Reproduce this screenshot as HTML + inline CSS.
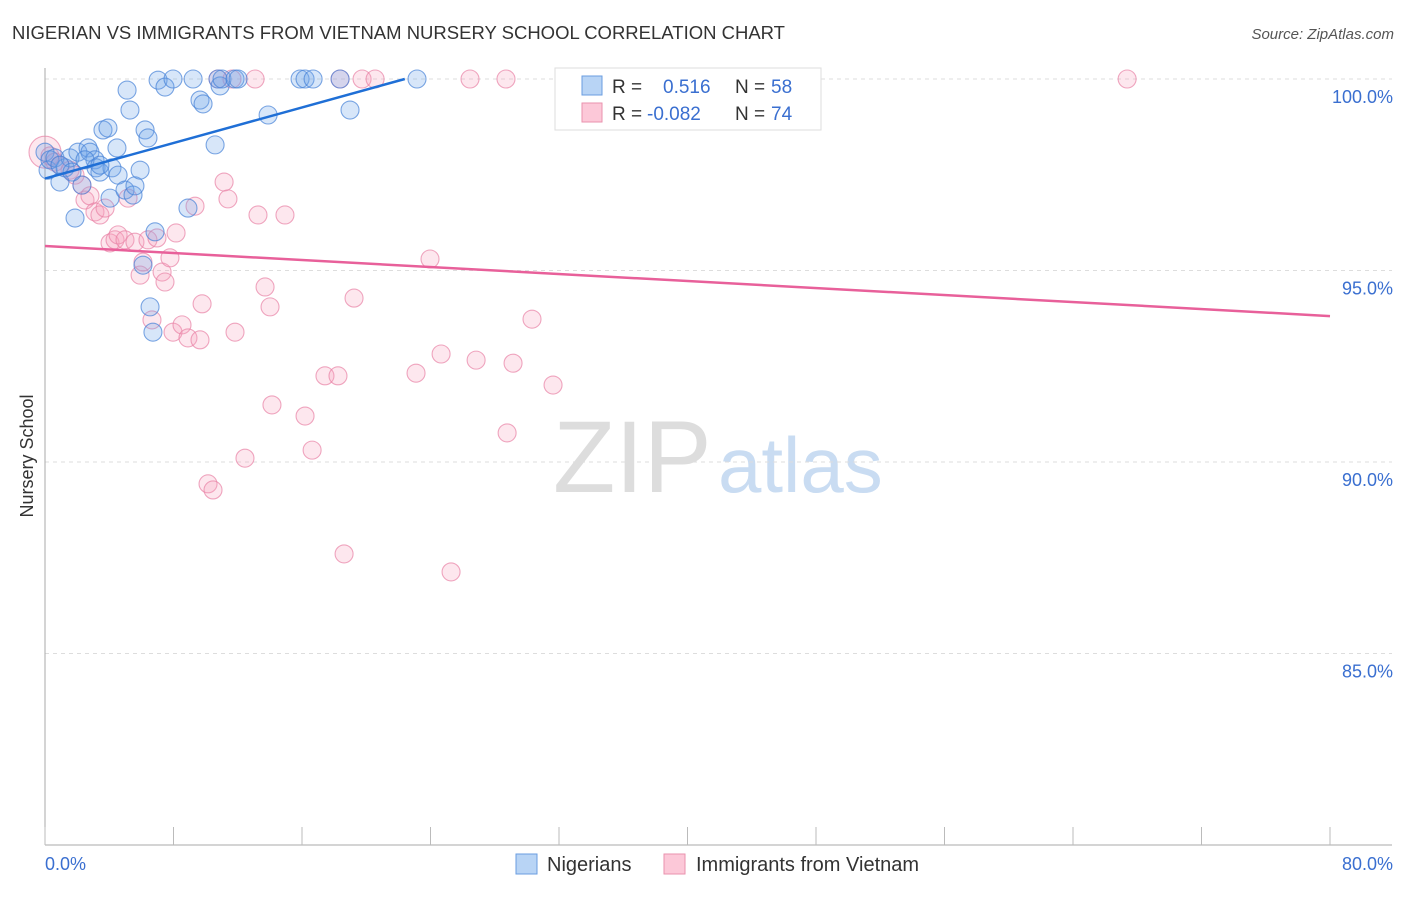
<!DOCTYPE html>
<html><head><meta charset="utf-8"><style>
body{margin:0;background:#fff;font-family:"Liberation Sans",sans-serif;}
svg text{font-family:"Liberation Sans",sans-serif;}
</style></head><body>
<svg id="c" width="1406" height="892">
<text x="12" y="39" font-size="18.5" fill="#333">NIGERIAN VS IMMIGRANTS FROM VIETNAM NURSERY SCHOOL CORRELATION CHART</text>
<text x="1394" y="39" font-size="15" fill="#555" text-anchor="end" font-style="italic">Source: ZipAtlas.com</text>
<text x="33" y="456" font-size="18" fill="#333" text-anchor="middle" transform="rotate(-90 33 456)">Nursery School</text>
<g>
<text x="553" y="492" font-size="102" fill="#ddd" font-family="Liberation Serif,serif">ZIP</text>
<text x="718" y="492" font-size="78" fill="#c9dcf2">atlas</text>
</g>
<g id="grid"></g><g id="axes"></g><g id="pts"></g><g id="lines"></g>
<g>
<rect x="555" y="68" width="266" height="62" fill="#fff" stroke="#ddd"/>
<rect x="582" y="76" width="20" height="19" fill="#b8d4f5" stroke="#6a9de0"/>
<text x="612" y="93" font-size="19" fill="#333">R = </text><text x="663" y="93" font-size="19" fill="#3a6fd0">0.516</text>
<text x="735" y="93" font-size="19" fill="#333">N = </text><text x="771" y="93" font-size="19" fill="#3a6fd0">58</text>
<rect x="582" y="103" width="20" height="19" fill="#fcc8d8" stroke="#ea92ae"/>
<text x="612" y="120" font-size="19" fill="#333">R = </text><text x="647" y="120" font-size="19" fill="#3a6fd0">-0.082</text>
<text x="735" y="120" font-size="19" fill="#333">N = </text><text x="771" y="120" font-size="19" fill="#3a6fd0">74</text>
</g>
<g>
<rect x="516" y="854" width="21" height="20" fill="#b8d4f5" stroke="#6a9de0"/>
<text x="547" y="871" font-size="20" fill="#333">Nigerians</text>
<rect x="664" y="854" width="21" height="20" fill="#fcc8d8" stroke="#ea92ae"/>
<text x="696" y="871" font-size="20" fill="#333">Immigrants from Vietnam</text>
</g>
</svg>
<script>
const blueX=[0,0.19,0.31,0.62,0.93,1.25,1.56,1.87,2.05,2.30,2.68,2.80,3.11,3.18,3.42,3.61,3.92,4.05,4.17,4.48,4.55,4.98,5.11,5.29,5.48,5.60,5.92,6.10,6.23,6.41,6.54,6.72,6.85,7.04,7.47,7.97,8.90,9.22,9.65,9.84,10.59,10.77,10.90,11.02,11.83,12.02,13.89,15.88,16.19,16.69,18.37,18.99,23.16,35.80,0.93,1.68,2.49,3.42];
const blueY=[98.09,97.62,97.89,97.94,97.31,97.68,97.94,96.37,98.09,97.23,98.20,98.09,97.89,97.68,97.57,98.67,98.72,96.89,97.68,98.20,97.49,97.10,99.71,99.19,96.97,97.21,97.62,95.14,98.67,98.46,94.05,93.39,96.01,99.97,99.79,100,96.63,100,99.45,99.35,98.28,100,99.82,100,100,100,99.06,100,100,100,100,99.19,100,100,97.75,97.57,97.89,97.75];
const pinkX=[0,0.31,0.62,0.93,1.56,1.87,2.30,2.49,2.80,3.11,3.42,3.74,4.05,4.36,4.55,4.98,5.17,5.60,5.92,6.10,6.41,6.66,6.97,7.29,7.47,7.78,7.97,8.16,8.53,8.90,9.34,9.65,9.78,10.15,10.46,10.77,11.15,11.39,11.64,11.83,12.45,13.08,13.26,13.70,14.01,14.13,14.94,16.19,16.63,17.43,18.24,18.37,18.62,19.24,19.74,20.55,23.10,23.97,24.66,25.28,26.46,26.84,28.70,28.77,29.14,30.32,31.63,43.27,67.37];
const pinkY=[98.09,97.99,97.83,97.75,97.62,97.49,97.23,96.84,96.95,96.53,96.45,96.63,95.72,95.80,95.93,95.80,96.89,95.74,94.88,95.22,95.80,93.71,95.85,94.96,94.70,95.33,93.39,95.98,93.58,93.24,96.68,93.19,94.13,89.43,89.27,100,97.31,96.87,100,93.39,90.10,100,96.45,94.57,94.05,91.49,96.45,91.20,90.31,92.25,92.25,100,87.60,94.28,100,100,92.32,95.30,92.82,87.13,100,92.66,100,90.76,92.58,93.73,92.01,100,100];
const blueTrend=[[0,97.4],[22.4,100]];
const pinkTrend=[[0,95.64],[80,93.81]];
const yTicks=[100,95,90,85];
const yTickLabels=["100.0%","95.0%","90.0%","85.0%"];
const NS="http://www.w3.org/2000/svg";
const X=v=>45+v*16.0625, Y=v=>79+(100-v)*38.3;
function mk(p,t,a){const e=document.createElementNS(NS,t);for(const k in a)e.setAttribute(k,a[k]);document.getElementById(p).appendChild(e);return e;}
yTicks.forEach((t,i)=>{
 const l=mk('grid','line',{x1:45,x2:1392,y1:Y(t),y2:Y(t),stroke:'#ddd','stroke-dasharray':'4 4'});
 
 
 const tx=mk('grid','text',{x:1393,y:Y(t)+24,'font-size':18,fill:'#3a6fd0','text-anchor':'end'});tx.textContent=yTickLabels[i];
 
 
});
const ax=mk('axes','line',{x1:45,x2:1392,y1:845,y2:845,stroke:'#aaa'});


const ay=mk('axes','line',{x1:45,x2:45,y1:68,y2:845,stroke:'#aaa'});


for(let i=0;i<=10;i++){const t=mk('axes','line',{x1:X(i*8),x2:X(i*8),y1:827,y2:845,stroke:'#bbb'});
 
 }
const x0=mk('axes','text',{x:45,y:870,'font-size':18,fill:'#3a6fd0'});x0.textContent='0.0%';


const x1=mk('axes','text',{x:1393,y:870,'font-size':18,fill:'#3a6fd0','text-anchor':'end'});x1.textContent='80.0%';


pinkX.forEach((v,i)=>{const c=mk('pts','circle',{cx:X(v),cy:Y(pinkY[i]),r:i==0?16:9,fill:'rgba(246,160,188,0.25)',stroke:'rgba(232,130,165,0.7)','stroke-width':1.1});
 
 });
blueX.forEach((v,i)=>{const c=mk('pts','circle',{cx:X(v),cy:Y(blueY[i]),r:9,fill:'rgba(110,165,232,0.28)',stroke:'rgba(70,130,215,0.7)','stroke-width':1.1});
 
 });
const bl=mk('lines','line',{x1:X(blueTrend[0][0]),y1:Y(blueTrend[0][1]),x2:X(blueTrend[1][0]),y2:Y(blueTrend[1][1]),stroke:'#1f6fd6','stroke-width':2.5});


const pl=mk('lines','line',{x1:X(pinkTrend[0][0]),y1:Y(pinkTrend[0][1]),x2:X(pinkTrend[1][0]),y2:Y(pinkTrend[1][1]),stroke:'#e8609a','stroke-width':2.5});


</script>
</body></html>
